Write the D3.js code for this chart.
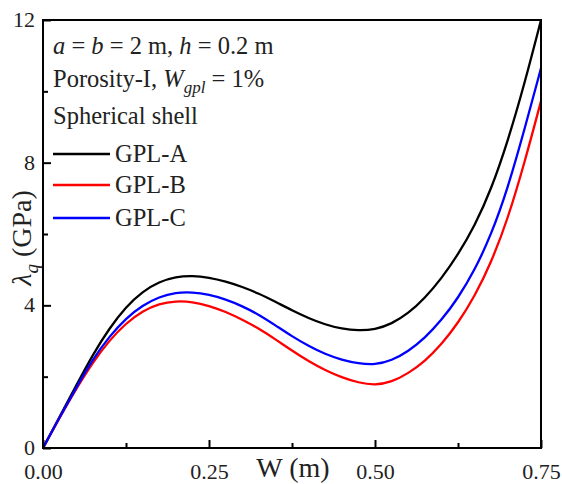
<!DOCTYPE html>
<html>
<head>
<meta charset="utf-8">
<script src="https://cdn.jsdelivr.net/npm/d3@7"></script>
<style>
  body { margin: 0; background: #fff; }
  svg text { font-family: "Liberation Serif", "Times New Roman", serif; fill: #222; }
</style>
</head>
<body>
<svg id="chart" width="562" height="484"></svg>
<script>
// deflection W (m)
const wValues = [0, 0.025, 0.05, 0.075, 0.1, 0.125, 0.15, 0.175, 0.2, 0.225, 0.25,
  0.275, 0.3, 0.325, 0.35, 0.375, 0.4, 0.425, 0.45, 0.475, 0.5,
  0.525, 0.55, 0.575, 0.6, 0.625, 0.65, 0.675, 0.7, 0.725, 0.75];

// lambda_q (GPa)
const gplA = [0, 0.88, 1.75, 2.62, 3.36, 3.96, 4.39, 4.66, 4.8, 4.83, 4.78,
  4.67, 4.52, 4.33, 4.1, 3.86, 3.64, 3.46, 3.34, 3.29, 3.32,
  3.48, 3.77, 4.2, 4.75, 5.42, 6.22, 7.25, 8.6, 10.2, 12.0];
const gplB = [0, 0.85, 1.66, 2.4, 3.02, 3.5, 3.84, 4.05, 4.12, 4.1, 3.99,
  3.82, 3.6, 3.35, 3.05, 2.73, 2.43, 2.18, 1.98, 1.83, 1.76,
  1.85, 2.09, 2.43, 2.9, 3.5, 4.25, 5.2, 6.42, 7.98, 9.73];
const gplC = [0, 0.86, 1.69, 2.49, 3.13, 3.64, 4.0, 4.24, 4.36, 4.37, 4.3,
  4.17, 3.98, 3.74, 3.44, 3.13, 2.86, 2.63, 2.47, 2.37, 2.33,
  2.45, 2.71, 3.08, 3.58, 4.2, 4.98, 5.98, 7.28, 8.92, 10.65];

const seriesNames = ['GPL-A', 'GPL-B', 'GPL-C'];
const seriesColors = ['#000000', '#ff0000', '#0000ff'];

const xTicks = [0, 0.25, 0.5, 0.75];
const xMinor = [0.125, 0.375, 0.625];
const yTicks = [0, 4, 8, 12];
const yMinor = [2, 6, 10];

const width = 562, height = 484;
const margin = {top: 20, right: 21, bottom: 36, left: 43};
const w = width - margin.left - margin.right;
const h = height - margin.top - margin.bottom;

const svg = d3.select('#chart');
const main = svg.append('g').attr('transform', `translate(${margin.left},${margin.top})`);

const xScale = d3.scaleLinear().domain([0, 0.75]).range([0, w]);
const yScale = d3.scaleLinear().domain([0, 12]).range([h, 0]);

// clip
svg.append('defs').append('clipPath').attr('id', 'clip')
  .append('rect').attr('x', -2).attr('y', -2).attr('width', w + 2).attr('height', h + 2);

// curves
const line = d3.line()
  .x(d => xScale(d[0]))
  .y(d => yScale(d[1]))
  .curve(d3.curveBasis);

const series = [gplA, gplB, gplC];
series.forEach((vals, i) => {
  main.append('path')
    .datum(wValues.map((x, j) => [x, vals[j]]))
    .attr('clip-path', 'url(#clip)')
    .attr('fill', 'none')
    .attr('stroke', seriesColors[i])
    .attr('stroke-width', 2.3)
    .attr('d', line);
});

// axes (ticks pointing inward)
const xAxis = main.append('g').attr('transform', `translate(0,${h})`)
  .call(d3.axisBottom(xScale).tickValues(xTicks).tickSize(-8).tickPadding(15)
    .tickFormat(d3.format('.2f')));
main.append('g').attr('transform', `translate(0,${h})`)
  .call(d3.axisBottom(xScale).tickValues(xMinor).tickSize(-5).tickFormat(''));

const yAxis = main.append('g')
  .call(d3.axisLeft(yScale).tickValues(yTicks).tickSize(-8).tickPadding(8));
main.append('g')
  .call(d3.axisLeft(yScale).tickValues(yMinor).tickSize(-5).tickFormat(''));

main.selectAll('.domain').remove();
main.selectAll('.tick line').attr('stroke', '#000').attr('stroke-width', 2);
main.selectAll('.tick text').attr('font-size', 22).attr('fill', '#222')
  .attr('font-family', '"Liberation Serif", serif');
xAxis.selectAll('.tick text').attr('dy', '0.71em');
yAxis.selectAll('.tick text').attr('dy', '0.3em');

// frame
main.append('rect')
  .attr('width', w).attr('height', h)
  .attr('fill', 'none').attr('stroke', '#000').attr('stroke-width', 2);

// axis titles
svg.append('text')
  .attr('x', 293).attr('y', 477)
  .attr('text-anchor', 'middle')
  .attr('font-size', 28)
  .text('W (m)');

const yTitle = svg.append('text')
  .attr('transform', 'translate(31,238) rotate(-90)')
  .attr('text-anchor', 'middle')
  .attr('font-size', 28);
yTitle.append('tspan').attr('font-style', 'italic').text('λ');
yTitle.append('tspan').attr('font-style', 'italic').attr('font-size', 19).attr('dy', 7).text('q');
yTitle.append('tspan').attr('dy', -7).text(' (GPa)');

// annotation
const note = svg.append('g').attr('font-size', 24.5);
const t1 = note.append('text').attr('x', 53).attr('y', 54);
t1.append('tspan').attr('font-style', 'italic').text('a');
t1.append('tspan').text(' = ');
t1.append('tspan').attr('font-style', 'italic').text('b');
t1.append('tspan').text(' = 2 m, ');
t1.append('tspan').attr('font-style', 'italic').text('h');
t1.append('tspan').text(' = 0.2 m');

const t2 = note.append('text').attr('x', 53).attr('y', 87);
t2.append('tspan').text('Porosity-I, ');
t2.append('tspan').attr('font-style', 'italic').text('W');
t2.append('tspan').attr('font-style', 'italic').attr('font-size', 17).attr('dy', 6).text('gpl');
t2.append('tspan').attr('dy', -6).text(' = 1%');

note.append('text').attr('x', 53).attr('y', 124).text('Spherical shell');

// legend
const legendY = [154, 185, 218];
seriesNames.forEach((name, i) => {
  const g = svg.append('g');
  g.append('line')
    .attr('x1', 53).attr('x2', 110)
    .attr('y1', legendY[i]).attr('y2', legendY[i])
    .attr('stroke', seriesColors[i]).attr('stroke-width', 2.3);
  g.append('text')
    .attr('x', 115).attr('y', legendY[i] + 8)
    .attr('font-size', 24.5)
    .text(name);
});
</script>
</body>
</html>
